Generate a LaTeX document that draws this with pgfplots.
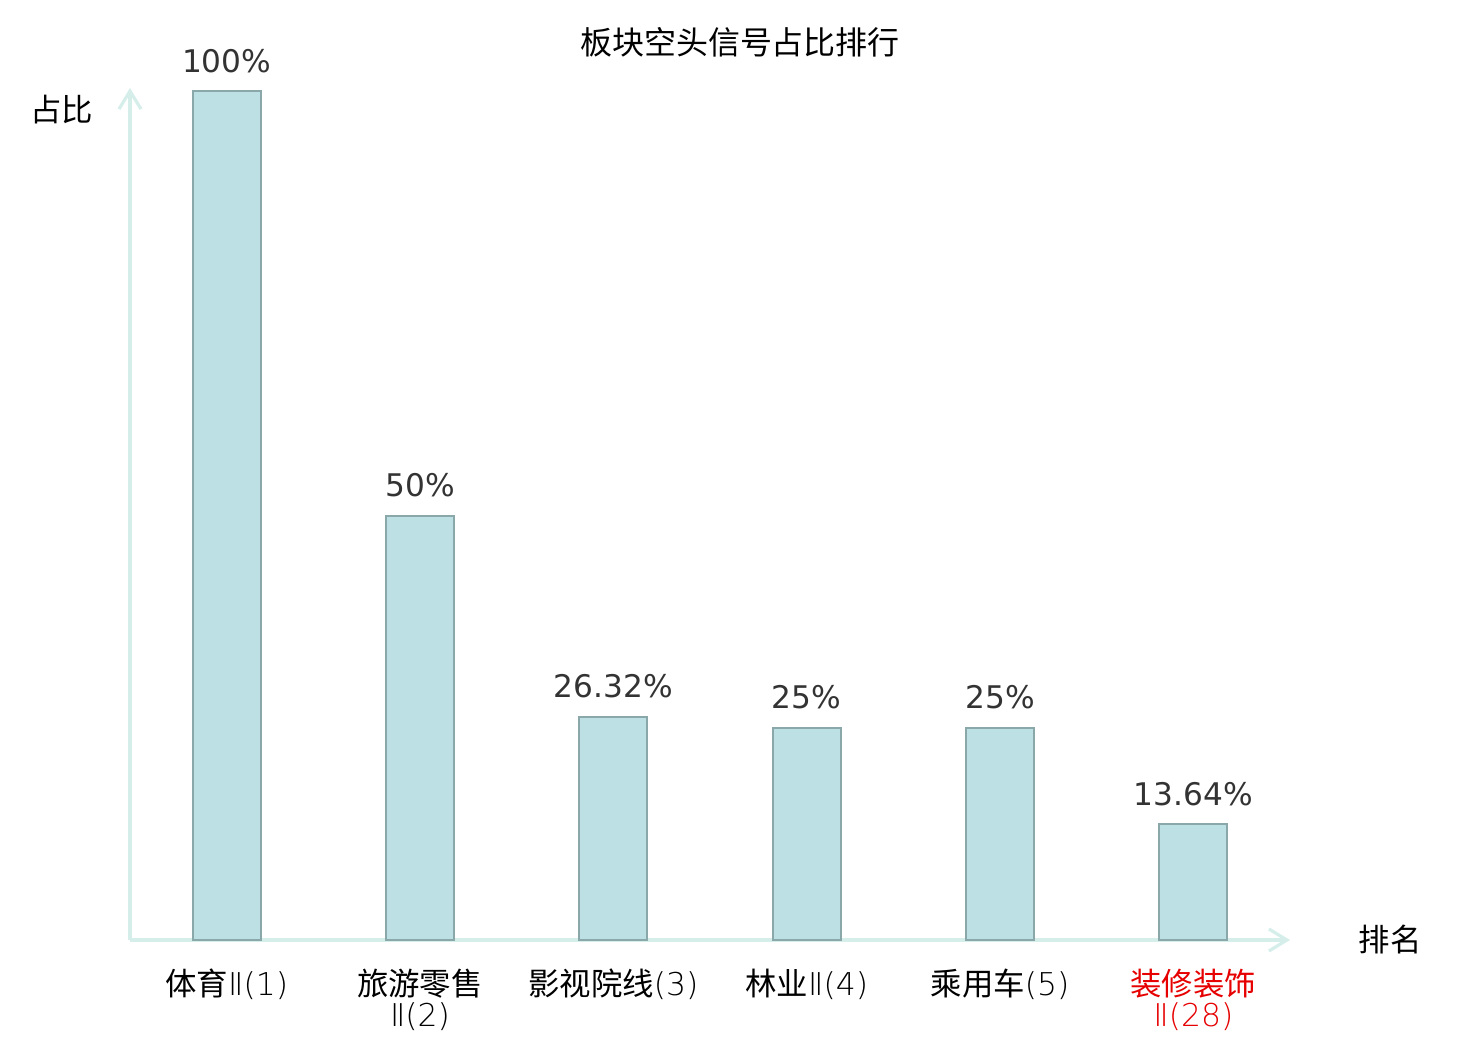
\documentclass[border=0pt]{standalone}
\usepackage{pgfplots}
\pgfplotsset{compat=1.18}
\usetikzlibrary{arrows.meta}
\usepackage{fontspec}
\setmainfont{Noto Sans CJK SC}
\newfontfamily\numfont{DejaVu Sans}
\newfontfamily\thinfont{DejaVu Sans ExtraLight}
\definecolor{barfill}{RGB}{188,224,227}
\definecolor{bardraw}{RGB}{138,168,170}
\definecolor{axiscol}{RGB}{214,238,234}
\definecolor{lblred}{RGB}{230,0,0}
\definecolor{numcol}{RGB}{51,51,51}
\begin{document}
\begin{tikzpicture}
\useasboundingbox (-65pt,-50pt) rectangle (675pt,470pt);
\begin{axis}[
  at={(0,0)}, anchor=south west,
  width=580pt, height=426pt, scale only axis,
  xmin=-0.5, xmax=5.5, ymin=0, ymax=100.4,
  axis lines=left,
  axis line style={draw=axiscol, line width=1.6pt, -{Straight Barb[length=9pt,width=11pt,line width=1.6pt]}},
  ybar, bar width=34pt,
  xtick={0,1,2,3,4,5},
  xticklabels={{体育{\thinfont Ⅱ(1)}},{旅游零售\\{\thinfont Ⅱ(2)}},{影视院线{\thinfont (3)}},{林业{\thinfont Ⅱ(4)}},{乘用车{\thinfont (5)}},{\color{lblred}装修装饰\\\color{lblred}{\thinfont Ⅱ(28)}}},
  xtick style={draw=none}, ytick=\empty,
  xticklabel style={font=\fontsize{15.7}{15.6}\selectfont, align=center, yshift=-6.8pt, text=black},
  nodes near coords, point meta=explicit symbolic,
  every node near coord/.append style={font=\numfont\fontsize{15.6}{18}\selectfont, text=numcol, yshift=5.5pt},
  clip=false,
]
\addplot[fill=barfill, draw=bardraw, line width=1pt] coordinates {
  (0,100) [100\%]
  (1,50) [50\%]
  (2,26.32) [26.32\%]
  (3,25) [25\%]
  (4,25) [25\%]
  (5,13.64) [13.64\%]
};
\end{axis}
\node[font=\fontsize{16}{16}\selectfont] at (305pt,449pt) {板块空头信号占比排行};
\node[font=\fontsize{15.7}{16}\selectfont] at (-34pt,415pt) {占比};
\node[font=\fontsize{15.7}{16}\selectfont] at (630pt,0pt) {排名};
\end{tikzpicture}
\end{document}
